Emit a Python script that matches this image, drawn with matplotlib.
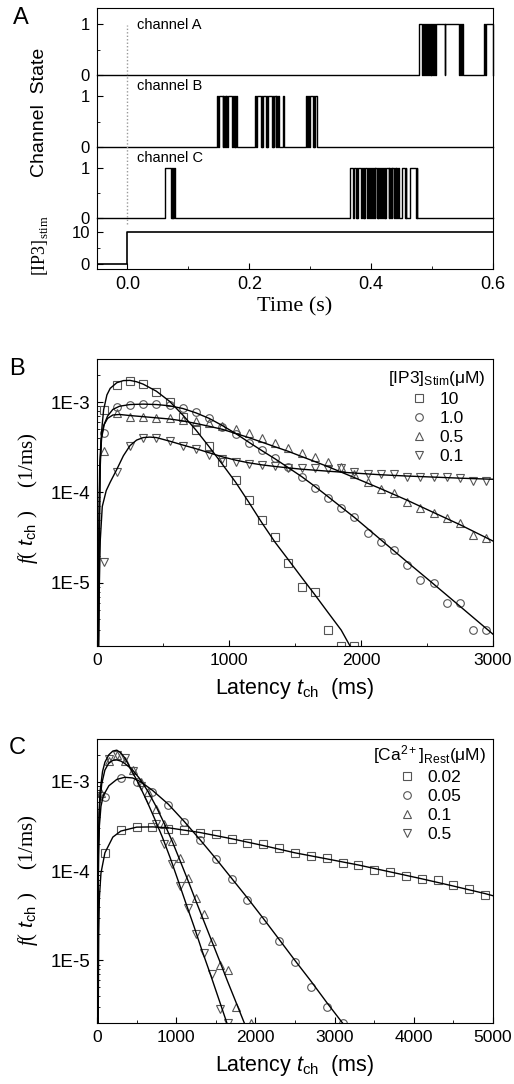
import matplotlib
matplotlib.use("Agg")
import matplotlib.pyplot as plt
from matplotlib.ticker import LogLocator, NullFormatter, MultipleLocator

plt.rcParams['font.family'] = ['Liberation Sans', 'DejaVu Sans']
plt.rcParams['mathtext.fontset'] = 'custom'
plt.rcParams['mathtext.rm'] = 'Liberation Sans'
plt.rcParams['mathtext.it'] = 'Liberation Sans:italic'
plt.rcParams['mathtext.sf'] = 'Liberation Sans'
plt.rcParams['mathtext.bf'] = 'Liberation Serif:italic'
plt.rcParams['mathtext.tt'] = 'Liberation Serif'

# ---------------- panel A data: open intervals (s) ----------------
chanA_open = [(0.478, 0.4835), (0.4850, 0.4865), (0.4880, 0.4900), (0.4915, 0.4935),
              (0.4950, 0.4960), (0.4975, 0.4990), (0.5005, 0.5020), (0.5035, 0.5045),
              (0.5070, 0.5205), (0.5220, 0.5450), (0.5465, 0.5480), (0.5495, 0.5510),
              (0.5855, 0.5870), (0.5885, 0.6000)]
chanB_open = [(0.147, 0.1485), (0.150, 0.156), (0.1575, 0.1585), (0.160, 0.161),
              (0.1625, 0.1635), (0.165, 0.172), (0.1735, 0.1745), (0.176, 0.177),
              (0.1785, 0.1805),
              (0.209, 0.2105), (0.212, 0.219), (0.2205, 0.2215), (0.223, 0.227),
              (0.2285, 0.2295), (0.231, 0.237), (0.2385, 0.2395), (0.241, 0.2435),
              (0.2445, 0.2455), (0.247, 0.249), (0.255, 0.257),
              (0.293, 0.2945), (0.296, 0.2975), (0.299, 0.304), (0.3055, 0.3065),
              (0.308, 0.311)]
chanC_open = [(0.061, 0.0715), (0.0725, 0.0735), (0.0745, 0.0755), (0.0765, 0.078),
              (0.365, 0.371), (0.3725, 0.3745), (0.376, 0.3775), (0.379, 0.384),
              (0.3855, 0.3865), (0.388, 0.389), (0.3905, 0.3935), (0.395, 0.396),
              (0.3975, 0.4005), (0.402, 0.403), (0.4045, 0.4055), (0.407, 0.4095),
              (0.411, 0.412), (0.4135, 0.4145), (0.416, 0.4185), (0.420, 0.421),
              (0.4225, 0.4235), (0.425, 0.4285), (0.430, 0.431), (0.4325, 0.4335),
              (0.435, 0.4375), (0.439, 0.440), (0.4415, 0.4425), (0.444, 0.446),
              (0.451, 0.455), (0.4565, 0.4575), (0.464, 0.4735), (0.4745, 0.4755)]
ip3_t = [-0.05, 0.0, 0.0, 0.6]
ip3_v = [0, 0, 10, 10]

# ---------------- panel B data ----------------
b_t30 = [50, 150, 250, 350, 450, 550, 650, 750, 850, 950, 1050, 1150, 1250, 1350, 1450,
         1550, 1650, 1750, 1850, 1950, 2050, 2150, 2250, 2350, 2450, 2550, 2650, 2750,
         2850, 2950]
b_f_10 = [8.1e-4, 1.55e-3, 1.71e-3, 1.57e-3, 1.30e-3, 1.0e-3, 6.9e-4, 4.9e-4, 3.27e-4,
          2.2e-4, 1.36e-4, 8.2e-5, 5.0e-5, 3.2e-5, 1.67e-5, 9.0e-6, 7.9e-6, 3.0e-6,
          2.0e-6, 2.0e-6]
b_f_1 = [4.5e-4, 8.9e-4, 9.3e-4, 9.5e-4, 9.5e-4, 9.4e-4, 8.7e-4, 7.7e-4, 6.7e-4, 5.3e-4,
         4.4e-4, 3.57e-4, 2.93e-4, 2.4e-4, 1.9e-4, 1.48e-4, 1.11e-4, 8.6e-5, 6.8e-5,
         5.3e-5, 3.6e-5, 2.8e-5, 2.3e-5, 1.58e-5, 1.08e-5, 1.0e-5, 6.0e-6, 6.0e-6,
         3.0e-6, 3.0e-6]
b_f_05 = [2.86e-4, 7.5e-4, 6.9e-4, 6.8e-4, 6.7e-4, 6.7e-4, 6.4e-4, 6.2e-4, 5.8e-4,
          5.45e-4, 5.1e-4, 4.5e-4, 4.0e-4, 3.57e-4, 3.1e-4, 2.75e-4, 2.45e-4, 2.15e-4,
          1.9e-4, 1.6e-4, 1.3e-4, 1.1e-4, 9.8e-5, 7.9e-5, 6.8e-5, 6.0e-5, 5.2e-5,
          4.6e-5, 3.4e-5, 3.1e-5]
b_f_01 = [1.7e-5, 1.68e-4, 3.3e-4, 4.0e-4, 4.0e-4, 3.7e-4, 3.3e-4, 3.0e-4, 2.6e-4,
          2.37e-4, 2.2e-4, 2.08e-4, 2.0e-4, 1.95e-4, 1.87e-4, 1.87e-4, 1.85e-4, 1.8e-4,
          1.85e-4, 1.67e-4, 1.6e-4, 1.6e-4, 1.6e-4, 1.5e-4, 1.5e-4, 1.47e-4, 1.47e-4,
          1.43e-4, 1.33e-4, 1.33e-4]

bfit_t_10 = [12, 18, 25, 35, 50, 75, 100, 150, 200, 250, 300, 350, 450, 550, 650, 750,
             850, 950, 1050, 1150, 1250, 1350, 1450, 1550, 1650, 1750, 1850, 1917]
bfit_f_10 = [2e-6, 3e-5, 2e-4, 4.8e-4, 8.2e-4, 1.2e-3, 1.42e-3, 1.64e-3, 1.73e-3,
             1.74e-3, 1.68e-3, 1.58e-3, 1.32e-3, 1.02e-3, 7.2e-4, 4.9e-4, 3.2e-4,
             2.05e-4, 1.3e-4, 7.8e-5, 4.6e-5, 2.8e-5, 1.8e-5, 1.15e-5, 7.4e-6, 4.7e-6,
             3.0e-6, 2.0e-6]
bfit_t_1 = [10, 16, 22, 35, 55, 80, 120, 170, 250, 350, 450, 550, 650, 750, 850, 950,
            1050, 1150, 1250, 1350, 1450, 1550, 1650, 1750, 1850, 1950, 2150, 2350, 2550,
            2750, 3000]
bfit_f_1 = [2e-6, 4e-5, 2e-4, 4e-4, 5.7e-4, 7e-4, 8.3e-4, 9e-4, 9.4e-4, 9.5e-4, 9.4e-4,
            9.1e-4, 8.5e-4, 7.6e-4, 6.6e-4, 5.5e-4, 4.5e-4, 3.6e-4, 2.9e-4, 2.35e-4,
            1.88e-4, 1.5e-4, 1.17e-4, 9.0e-5, 6.9e-5, 5.3e-5, 3.0e-5, 1.7e-5, 9.7e-6,
            5.5e-6, 2.7e-6]
bfit_t_05 = [9, 14, 20, 30, 50, 80, 120, 170, 250, 350, 450, 550, 650, 750, 850, 950,
             1050, 1150, 1250, 1350, 1450, 1550, 1650, 1750, 1850, 1950, 2150, 2350,
             2550, 2750, 3000]
bfit_f_05 = [2e-6, 4e-5, 1.8e-4, 3.8e-4, 5.5e-4, 6.6e-4, 7.2e-4, 7.3e-4, 7.1e-4, 6.9e-4,
             6.7e-4, 6.5e-4, 6.2e-4, 5.8e-4, 5.4e-4, 5.0e-4, 4.5e-4, 4.05e-4, 3.6e-4,
             3.2e-4, 2.85e-4, 2.5e-4, 2.2e-4, 1.93e-4, 1.68e-4, 1.46e-4, 1.1e-4, 8.2e-5,
             6.0e-5, 4.4e-5, 2.9e-5]
bfit_t_01 = [12, 18, 25, 40, 70, 100, 150, 200, 250, 300, 350, 400, 450, 550, 650, 750,
             850, 950, 1050, 1150, 1250, 1350, 1450, 1550, 1750, 1950, 2150, 2350, 2550,
             2750, 3000]
bfit_f_01 = [2e-6, 1e-5, 3e-5, 7e-5, 1.05e-4, 1.3e-4, 1.8e-4, 2.55e-4, 3.3e-4, 3.8e-4,
             4.05e-4, 4.1e-4, 4.05e-4, 3.7e-4, 3.35e-4, 3.05e-4, 2.75e-4, 2.48e-4,
             2.28e-4, 2.13e-4, 2.02e-4, 1.94e-4, 1.87e-4, 1.81e-4, 1.72e-4, 1.64e-4,
             1.57e-4, 1.52e-4, 1.48e-4, 1.44e-4, 1.40e-4]

# ---------------- panel C data ----------------
c_t_002 = [100, 300, 500, 700, 900, 1100, 1300, 1500, 1700, 1900, 2100, 2300, 2500,
           2700, 2900, 3100, 3300, 3500, 3700, 3900, 4100, 4300, 4500, 4700, 4900]
c_f_002 = [1.58e-4, 2.86e-4, 3.08e-4, 3.08e-4, 2.99e-4, 2.86e-4, 2.7e-4, 2.58e-4,
           2.27e-4, 2.05e-4, 2.0e-4, 1.8e-4, 1.58e-4, 1.47e-4, 1.4e-4, 1.23e-4, 1.17e-4,
           1.03e-4, 9.7e-5, 8.8e-5, 8.1e-5, 7.9e-5, 7.0e-5, 6.3e-5, 5.4e-5]
c_t_005 = [100, 300, 500, 700, 900, 1100, 1300, 1500, 1700, 1900, 2100, 2300, 2500,
           2700, 2900, 3100]
c_f_005 = [6.8e-4, 1.1e-3, 1.0e-3, 7.7e-4, 5.5e-4, 3.5e-4, 2.2e-4, 1.36e-4, 8.1e-5,
           4.7e-5, 2.86e-5, 1.67e-5, 9.7e-6, 5.0e-6, 3.0e-6, 2.0e-6]
c_t_01 = [50, 150, 250, 350, 450, 550, 650, 750, 850, 950, 1050, 1150, 1250, 1350, 1450,
          1550, 1650, 1750, 1950]
c_f_01 = [7.5e-4, 1.7e-3, 2.0e-3, 1.7e-3, 1.35e-3, 1.0e-3, 7.7e-4, 5.0e-4, 3.4e-4,
          2.15e-4, 1.4e-4, 8.4e-5, 5.0e-5, 3.3e-5, 1.67e-5, 8.8e-6, 7.9e-6, 3.0e-6, 2.0e-6]
c_t_05 = [50, 150, 250, 350, 450, 550, 650, 750, 850, 950, 1050, 1150, 1250, 1350, 1450,
          1550, 1650]
c_f_05 = [7.0e-4, 1.8e-3, 2.0e-3, 1.85e-3, 1.3e-3, 9.0e-4, 6.3e-4, 3.4e-4, 2.0e-4,
          1.2e-4, 6.8e-5, 3.9e-5, 2.0e-5, 1.2e-5, 7.0e-6, 2.9e-6, 2.0e-6]

cfit_t_002 = [15, 22, 30, 50, 100, 200, 300, 500, 700, 900, 1300, 1700, 2100, 2500, 2900,
              3300, 3700, 4100, 4500, 4900, 5000]
cfit_f_002 = [2e-6, 2e-5, 5e-5, 9.5e-5, 1.6e-4, 2.4e-4, 2.8e-4, 3.1e-4, 3.12e-4, 3.05e-4,
              2.7e-4, 2.3e-4, 1.93e-4, 1.6e-4, 1.37e-4, 1.17e-4, 9.8e-5, 8.2e-5, 6.8e-5,
              5.6e-5, 5.3e-5]
cfit_t_005 = [10, 15, 20, 30, 50, 80, 150, 250, 350, 450, 550, 700, 900, 1100, 1300, 1500,
              1700, 1900, 2100, 2300, 2500, 2700, 2900, 3100]
cfit_f_005 = [2e-6, 5e-5, 1.5e-4, 3.2e-4, 5.3e-4, 7e-4, 9e-4, 1.06e-3, 1.12e-3, 1.1e-3,
              1.0e-3, 8.0e-4, 5.6e-4, 3.6e-4, 2.25e-4, 1.38e-4, 8.3e-5, 5.0e-5, 2.95e-5,
              1.72e-5, 1.0e-5, 5.9e-6, 3.4e-6, 2.0e-6]
cfit_t_01 = [8, 12, 20, 35, 60, 100, 150, 200, 250, 300, 350, 450, 550, 650, 750, 850,
             950, 1050, 1150, 1250, 1350, 1450, 1550, 1650, 1750, 1860]
cfit_f_01 = [2e-6, 3e-5, 2e-4, 5.5e-4, 9.5e-4, 1.35e-3, 1.62e-3, 1.73e-3, 1.75e-3, 1.7e-3,
             1.6e-3, 1.35e-3, 1.05e-3, 7.6e-4, 5.2e-4, 3.4e-4, 2.15e-4, 1.3e-4, 7.8e-5,
             4.6e-5, 2.75e-5, 1.64e-5, 9.8e-6, 5.8e-6, 3.5e-6, 2.0e-6]
cfit_t_05 = [6, 10, 15, 25, 40, 70, 100, 150, 200, 250, 300, 350, 425, 525, 625, 725, 825,
             925, 1025, 1125, 1225, 1325, 1425, 1525, 1640]
cfit_f_05 = [2e-6, 2e-5, 1.5e-4, 4.5e-4, 8e-4, 1.3e-3, 1.65e-3, 2.0e-3, 2.2e-3, 2.25e-3,
             2.1e-3, 1.85e-3, 1.4e-3, 9.5e-4, 6.2e-4, 3.9e-4, 2.4e-4, 1.4e-4, 7.8e-5,
             4.3e-5, 2.4e-5, 1.3e-5, 7.3e-6, 4.0e-6, 2.0e-6]

W, H = 514, 1084
fig = plt.figure(figsize=(W / 100, H / 100), dpi=100)


def box(l, t, r, b):
    return [l / W, 1 - b / H, (r - l) / W, (b - t) / H]


def step_trace(intervals, t0, t1):
    ts, ys = [t0], [0]
    for a, b in intervals:
        ts += [a, a, b, b]
        ys += [0, 1, 1, 0]
    if ts[-1] < t1:
        ts.append(t1)
        ys.append(0)
    return ts, ys


# ---------------- panel A ----------------
axA = fig.add_axes(box(97, 8, 493, 269))
# vertical layout of the stacked traces (plot units): base, scale, label height
ip3_base, ip3_scale = 5, 3.2
ch_layout = [(chanA_open, 194, 51, 0.85, 'channel A'),
             (chanB_open, 122, 51, 1.05, 'channel B'),
             (chanC_open, 51, 50, 1.05, 'channel C')]
for iv, base, sc, lh, name in ch_layout:
    ts, ys = step_trace(iv, -0.05, 0.6)
    axA.plot(ts, [base + sc * y for y in ys], color='black', lw=1.0, clip_on=False)
    axA.text(0.016, base + sc * lh, name, fontsize=10.5, va='bottom', ha='left')
axA.plot(ip3_t, [ip3_base + ip3_scale * v for v in ip3_v], color='black', lw=1.2)
axA.plot([0, 0], [45, 244], color='#999999', lw=1.0, ls=(0, (1, 1.5)))
axA.set_xlim(-0.05, 0.6)
axA.set_ylim(0, 261)
axA.set_xticks([0.0, 0.2, 0.4, 0.6], ['0.0', '0.2', '0.4', '0.6'])
axA.xaxis.set_minor_locator(MultipleLocator(0.1))
yt = [ip3_base, ip3_base + 10 * ip3_scale]
yl = ['0', '10']
ym = [ip3_base + 5 * ip3_scale]
for iv, base, sc, lh, name in ch_layout:
    yt += [base, base + sc]
    yl += ['0', '1']
    ym.append(base + 0.5 * sc)
axA.set_yticks(yt, yl)
axA.set_yticks(ym, minor=True)
axA.tick_params(which='both', direction='in', labelsize=13, top=False, right=False)
axA.tick_params(axis='y', labelsize=12)
axA.tick_params(which='major', length=4, pad=5)
axA.tick_params(which='minor', length=2.5)
axA.set_xlabel('Time (s)', family='Liberation Serif', fontsize=16, labelpad=3)
fig.text(40 / W, 1 - 112 / H, 'Channel  State', rotation=90, fontsize=14,
         ha='center', va='center')
fig.text(40 / W, 1 - 246 / H, r'$\mathtt{[IP3]}_{\mathtt{stim}}$', rotation=90,
         fontsize=13, ha='center', va='center')
fig.text(21 / W, 1 - 18 / H, 'A', fontsize=17, ha='center', va='center')

# ---------------- panels B and C ----------------
mk = dict(ls='none', mfc='none', mec='#555555', mew=0.8, ms=5.5)


def log_panel(ax, xmax, xstep):
    ax.set_yscale('log')
    ax.set_ylim(2e-6, 3e-3)
    ax.set_xlim(0, xmax)
    ax.set_yticks([1e-5, 1e-4, 1e-3], ['1E-5', '1E-4', '1E-3'])
    ax.yaxis.set_minor_locator(LogLocator(base=10, subs=range(2, 10)))
    ax.yaxis.set_minor_formatter(NullFormatter())
    ax.xaxis.set_major_locator(MultipleLocator(xstep))
    ax.xaxis.set_minor_locator(MultipleLocator(500))
    ax.tick_params(which='both', direction='in', labelsize=12.5, top=False, right=False)
    ax.tick_params(axis='y', labelsize=13.5)
    ax.tick_params(which='major', length=4, pad=5)
    ax.tick_params(which='minor', length=2.5)
    ax.set_xlabel(r'Latency $\mathit{t}_{\mathrm{ch}}$  (ms)', fontsize=15.5, labelpad=6)


ylab = r'$\mathbf{f}\mathtt{(}\ \mathit{t}_{\mathrm{ch}}\ \mathtt{)}\quad\ \mathtt{(1/ms)}$'
leg_kw = dict(loc='upper right', frameon=False, fontsize=12.5, title_fontsize=12.5,
              handlelength=1.0, handletextpad=0.7, labelspacing=0.22, borderpad=0.2,
              borderaxespad=0.2)

axB = fig.add_axes(box(97, 359, 493, 646))
axB.plot(b_t30[:len(b_f_10)], b_f_10, marker='s', label='10', **mk)
axB.plot(b_t30, b_f_1, marker='o', label='1.0', **mk)
axB.plot(b_t30, b_f_05, marker='^', label='0.5', **mk)
axB.plot(b_t30, b_f_01, marker='v', label='0.1', **mk)
for ft, ff in [(bfit_t_10, bfit_f_10), (bfit_t_1, bfit_f_1),
               (bfit_t_05, bfit_f_05), (bfit_t_01, bfit_f_01)]:
    axB.plot(ft, ff, color='black', lw=1.0)
log_panel(axB, 3000, 1000)
axB.legend(bbox_to_anchor=(1.0, 0.99), title=r'[IP3]$_{\mathrm{Stim}}$(μM)', **leg_kw)
fig.text(28 / W, 1 - 498 / H, ylab, rotation=90, fontsize=15, ha='center', va='center')
fig.text(17 / W, 1 - 369 / H, 'B', fontsize=17, ha='center', va='center')

axC = fig.add_axes(box(97, 739, 493, 1023))
axC.plot(c_t_002, c_f_002, marker='s', label='0.02', **mk)
axC.plot(c_t_005, c_f_005, marker='o', label='0.05', **mk)
axC.plot(c_t_01, c_f_01, marker='^', label='0.1', **mk)
axC.plot(c_t_05, c_f_05, marker='v', label='0.5', **mk)
for ft, ff in [(cfit_t_002, cfit_f_002), (cfit_t_005, cfit_f_005),
               (cfit_t_01, cfit_f_01), (cfit_t_05, cfit_f_05)]:
    axC.plot(ft, ff, color='black', lw=1.0)
log_panel(axC, 5000, 1000)
axC.legend(bbox_to_anchor=(1.0, 1.01), title=r'[Ca$^{2+}$]$_{\mathrm{Rest}}$(μM)', **leg_kw)
fig.text(28 / W, 1 - 880 / H, ylab, rotation=90, fontsize=15, ha='center', va='center')
fig.text(17 / W, 1 - 748 / H, 'C', fontsize=17, ha='center', va='center')

fig.savefig('out.png', dpi=100)
